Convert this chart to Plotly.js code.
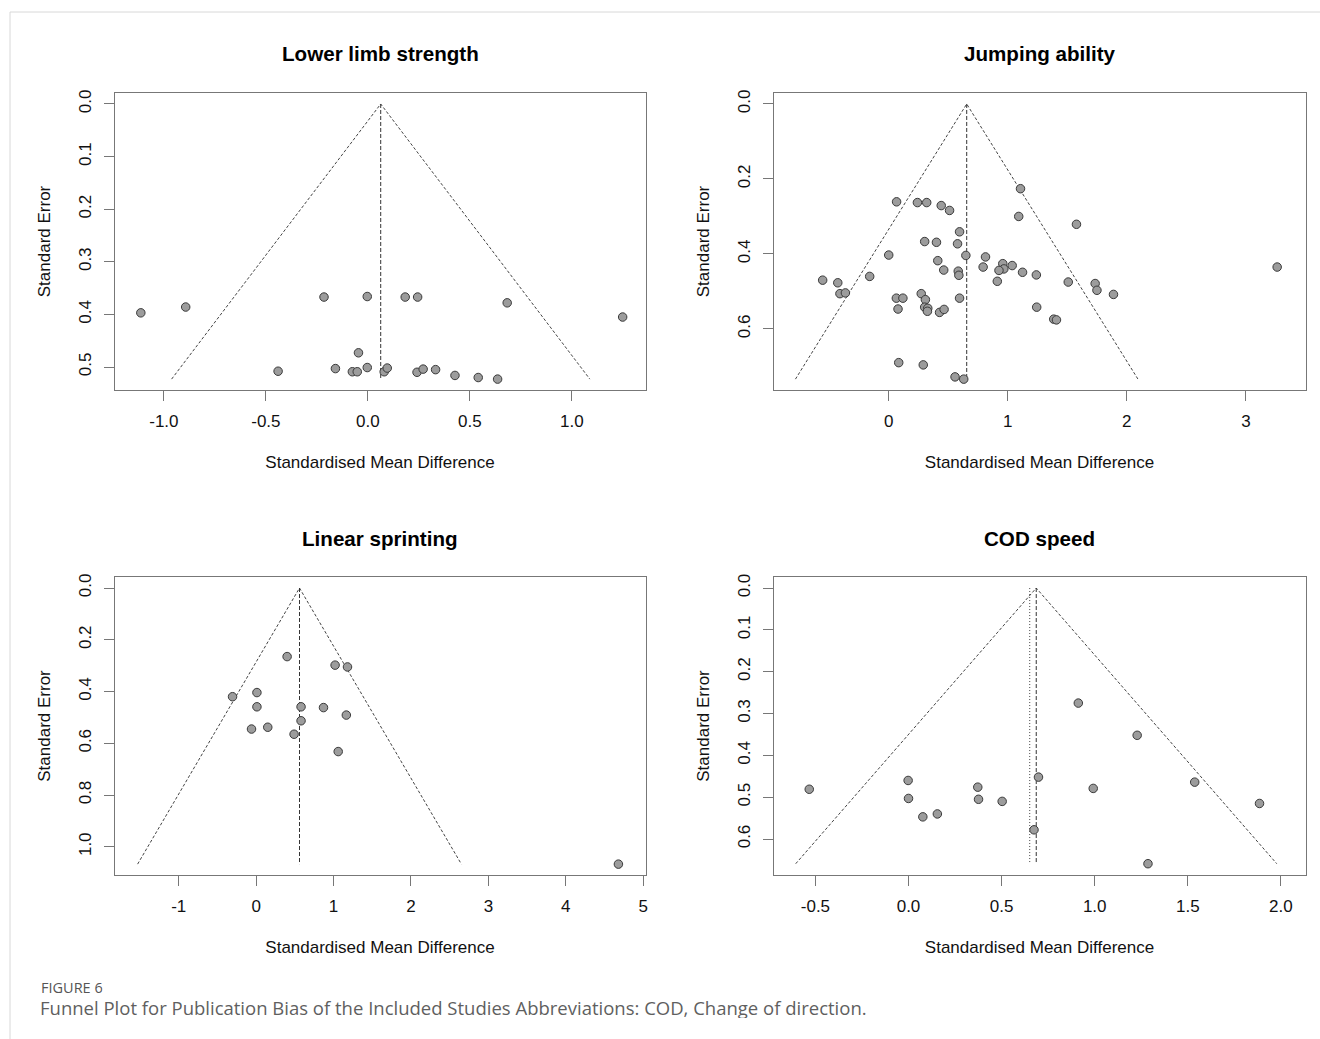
<!DOCTYPE html>
<html>
<head>
<meta charset="utf-8">
<script src="https://cdn.plot.ly/plotly-3.0.1.min.js"></script>
<style>html,body{margin:0;padding:0;background:#fff;}#chart{width:1320px;height:1039px;}</style>
</head>
<body>
<div id="chart"></div>
<script>
// ---------- Data ----------
const panelTitles = ["Lower limb strength", "Jumping ability", "Linear sprinting", "COD speed"];

// Lower limb strength
const lowerSMD = [-1.113, -0.893, -0.215, -0.003, 0.183, 0.244, 0.683, 1.249, -0.440, -0.046, -0.159, -0.076, -0.052, -0.003, 0.080, 0.095, 0.241, 0.271, 0.332, 0.427, 0.541, 0.636];
const lowerSE  = [0.397, 0.386, 0.367, 0.366, 0.367, 0.367, 0.378, 0.405, 0.508, 0.473, 0.503, 0.509, 0.509, 0.501, 0.509, 0.502, 0.510, 0.504, 0.505, 0.516, 0.520, 0.523];
const lowerCenter = 0.063;

// Jumping ability
const jumpSMD = [1.107, 0.066, 0.241, 0.319, 0.441, 0.511, 1.092, 1.577, 0.595, 0.302, 0.401, 0.578, 0.000, 0.648, 0.813, 0.412, 0.958, 0.793, 1.037, 0.967, 0.926, 0.462, 0.584, 0.589, 1.124, 1.240, 3.263, -0.160, -0.555, -0.428, 0.912, 1.508, 1.734, 1.749, 1.888, -0.410, -0.364, 0.064, 0.119, 0.273, 0.308, 0.595, 0.078, 0.302, 0.328, 0.325, 0.427, 0.465, 1.243, 1.386, 1.409, 0.084, 0.290, 0.557, 0.630];
const jumpSE  = [0.226, 0.261, 0.263, 0.263, 0.271, 0.284, 0.300, 0.321, 0.341, 0.367, 0.369, 0.373, 0.403, 0.404, 0.408, 0.418, 0.426, 0.435, 0.431, 0.440, 0.444, 0.443, 0.446, 0.457, 0.449, 0.456, 0.435, 0.460, 0.470, 0.477, 0.473, 0.475, 0.479, 0.497, 0.508, 0.506, 0.504, 0.518, 0.518, 0.506, 0.522, 0.518, 0.547, 0.542, 0.545, 0.553, 0.556, 0.548, 0.542, 0.574, 0.576, 0.690, 0.696, 0.728, 0.734];
const jumpCenter = 0.655;

// Linear sprinting
const sprintSMD = [0.40, 1.02, 1.18, -0.305, 0.01, 0.01, 0.58, 0.87, 1.165, 0.58, -0.06, 0.15, 0.49, 1.06, 4.68];
const sprintSE  = [0.265, 0.298, 0.305, 0.420, 0.404, 0.459, 0.459, 0.462, 0.491, 0.513, 0.545, 0.538, 0.565, 0.632, 1.067];
const sprintCenter = 0.56;

// COD speed
const codSMD = [0.912, 1.228, 0.698, -0.002, 1.537, -0.533, 0.372, 0.992, 0.000, 0.376, 0.503, 1.885, 0.155, 0.077, 0.674, 1.286];
const codSE  = [0.275, 0.352, 0.452, 0.460, 0.464, 0.481, 0.476, 0.479, 0.503, 0.505, 0.510, 0.515, 0.540, 0.547, 0.578, 0.659];
const codCenter = 0.686;
const codCenterAlt = 0.651;

// Tick values / labels
const lowerXTicks = [-1, -0.5, 0, 0.5, 1];
const lowerXText  = ["-1.0", "-0.5", "0.0", "0.5", "1.0"];
const lowerYTicks = [0, 0.1, 0.2, 0.3, 0.4, 0.5];
const lowerYText  = ["0.0", "0.1", "0.2", "0.3", "0.4", "0.5"];
const jumpXTicks = [0, 1, 2, 3];
const jumpXText  = ["0", "1", "2", "3"];
const jumpYTicks = [0, 0.2, 0.4, 0.6];
const jumpYText  = ["0.0", "0.2", "0.4", "0.6"];
const sprintXTicks = [-1, 0, 1, 2, 3, 4, 5];
const sprintXText  = ["-1", "0", "1", "2", "3", "4", "5"];
const sprintYTicks = [0, 0.2, 0.4, 0.6, 0.8, 1.0];
const sprintYText  = ["0.0", "0.2", "0.4", "0.6", "0.8", "1.0"];
const codXTicks = [-0.5, 0, 0.5, 1, 1.5, 2];
const codXText  = ["-0.5", "0.0", "0.5", "1.0", "1.5", "2.0"];
const codYTicks = [0, 0.1, 0.2, 0.3, 0.4, 0.5, 0.6];
const codYText  = ["0.0", "0.1", "0.2", "0.3", "0.4", "0.5", "0.6"];

const xTitle = "Standardised Mean Difference";
const yTitle = "Standard Error";
const captionHead = "FIGURE 6";
const captionText = "Funnel Plot for Publication Bias of the Included Studies Abbreviations: COD, Change of direction.";

// ---------- Build ----------
const W = 1320, H = 1039;
const FONT = "Liberation Sans, Arial, sans-serif";
const traces = [];

function panel(idx, smd, se, center, extraCenter) {
  const xa = idx === 1 ? "x" : "x" + idx;
  const ya = idx === 1 ? "y" : "y" + idx;
  const seMax = Math.max(...se);
  // funnel
  traces.push({x: [center - 1.96 * seMax, center, center + 1.96 * seMax], y: [seMax, 0, seMax],
    xaxis: xa, yaxis: ya, mode: "lines", line: {color: "#444", width: 1, dash: "3px,2px"}, hoverinfo: "skip"});
  if (extraCenter !== undefined) {
    traces.push({x: [extraCenter, extraCenter], y: [0, seMax], xaxis: xa, yaxis: ya, mode: "lines",
      line: {color: "#444", width: 1, dash: "1px,2px"}, hoverinfo: "skip"});
  }
  traces.push({x: [center, center], y: [0, seMax], xaxis: xa, yaxis: ya, mode: "lines",
    line: {color: "#333", width: 1, dash: "4px,2px"}, hoverinfo: "skip"});
  traces.push({x: smd, y: se, xaxis: xa, yaxis: ya, mode: "markers",
    marker: {size: 8.5, color: "#9c9c9c", line: {color: "#3a3a3a", width: 1}}});
}
panel(1, lowerSMD, lowerSE, lowerCenter);
panel(2, jumpSMD, jumpSE, jumpCenter);
panel(3, sprintSMD, sprintSE, sprintCenter);
panel(4, codSMD, codSE, codCenter, codCenterAlt);

const colL = [114.5 / W, 645.5 / W], colR = [773.5 / W, 1305.5 / W];
const rowT = [1 - 390 / H, 1 - 93 / H], rowB = [1 - 875 / H, 1 - 577 / H];

function xAxis(domain, range, tv, tt, anchor) {
  return {domain, range, tickvals: tv, ticktext: tt, anchor, showgrid: false, zeroline: false,
    showline: true, mirror: true, linecolor: "#777", linewidth: 1, ticks: "outside", ticklen: 10,
    tickcolor: "#777", tickfont: {family: FONT, size: 17, color: "#111"}, ticklabelstandoff: 6,
    title: {text: xTitle, font: {family: FONT, size: 17, color: "#111"}, standoff: 25}};
}
function yAxis(domain, range, tv, tt, anchor) {
  return {domain, range, tickvals: tv, ticktext: tt, anchor, showgrid: false, zeroline: false,
    showline: true, mirror: true, linecolor: "#777", linewidth: 1, ticks: "outside", ticklen: 10,
    tickcolor: "#777", tickangle: -90, tickfont: {family: FONT, size: 17, color: "#111"}, ticklabelstandoff: 6,
    title: {text: yTitle, font: {family: FONT, size: 17, color: "#111"}, standoff: 20}};
}

const layout = {
  width: W, height: H, margin: {l: 0, r: 0, t: 0, b: 0}, showlegend: false,
  paper_bgcolor: "#fff", plot_bgcolor: "#fff",
  xaxis: xAxis(colL, [-1.242, 1.361], lowerXTicks, lowerXText, "y"),
  yaxis: yAxis(rowT, [0.5437, -0.0209], lowerYTicks, lowerYText, "x"),
  xaxis2: xAxis(colR, [-0.968, 3.501], jumpXTicks, jumpXText, "y2"),
  yaxis2: yAxis(rowT, [0.763, -0.0293], jumpYTicks, jumpYText, "x2"),
  xaxis3: xAxis(colL, [-1.83, 5.03], sprintXTicks, sprintXText, "y3"),
  yaxis3: yAxis(rowB, [1.109, -0.0426], sprintYTicks, sprintYText, "x3"),
  xaxis4: xAxis(colR, [-0.725, 2.132], codXTicks, codXText, "y4"),
  yaxis4: yAxis(rowB, [0.686, -0.0264], codYTicks, codYText, "x4"),
  annotations: [
    {text: "<b>" + panelTitles[0] + "</b>", x: (colL[0] + colL[1]) / 2, y: 1 - 53 / H},
    {text: "<b>" + panelTitles[1] + "</b>", x: (colR[0] + colR[1]) / 2, y: 1 - 53 / H},
    {text: "<b>" + panelTitles[2] + "</b>", x: (colL[0] + colL[1]) / 2, y: 1 - 538 / H},
    {text: "<b>" + panelTitles[3] + "</b>", x: (colR[0] + colR[1]) / 2, y: 1 - 538 / H}
  ].map(a => Object.assign(a, {xref: "paper", yref: "paper", showarrow: false, xanchor: "center", yanchor: "middle",
    font: {family: FONT, size: 20.6, color: "#000"}})).concat([
    {text: captionHead, x: 40 / W, y: 1 - 987 / H, xref: "paper", yref: "paper", showarrow: false,
      xanchor: "left", yanchor: "middle", height: 15, borderpad: 0,
      font: {family: "Open Sans, sans-serif", size: 14.5, color: "#555"}},
    {text: captionText, x: 39 / W, y: 1 - 1007.5 / H, xref: "paper", yref: "paper", showarrow: false,
      xanchor: "left", yanchor: "middle", height: 21, borderpad: 0,
      font: {family: "Open Sans, sans-serif", size: 18.5, color: "#5f5f5f"}}
  ]),
  shapes: [
    {type: "line", xref: "paper", yref: "paper", x0: 10 / W, x1: 1, y0: 1 - 12 / H, y1: 1 - 12 / H, line: {color: "#d8d8d8", width: 1}},
    {type: "line", xref: "paper", yref: "paper", x0: 10 / W, x1: 10 / W, y0: 1 - 12 / H, y1: 0, line: {color: "#d8d8d8", width: 1}}
  ]
};

Plotly.newPlot("chart", traces, layout, {displayModeBar: false, staticPlot: true});
</script>
</body>
</html>
